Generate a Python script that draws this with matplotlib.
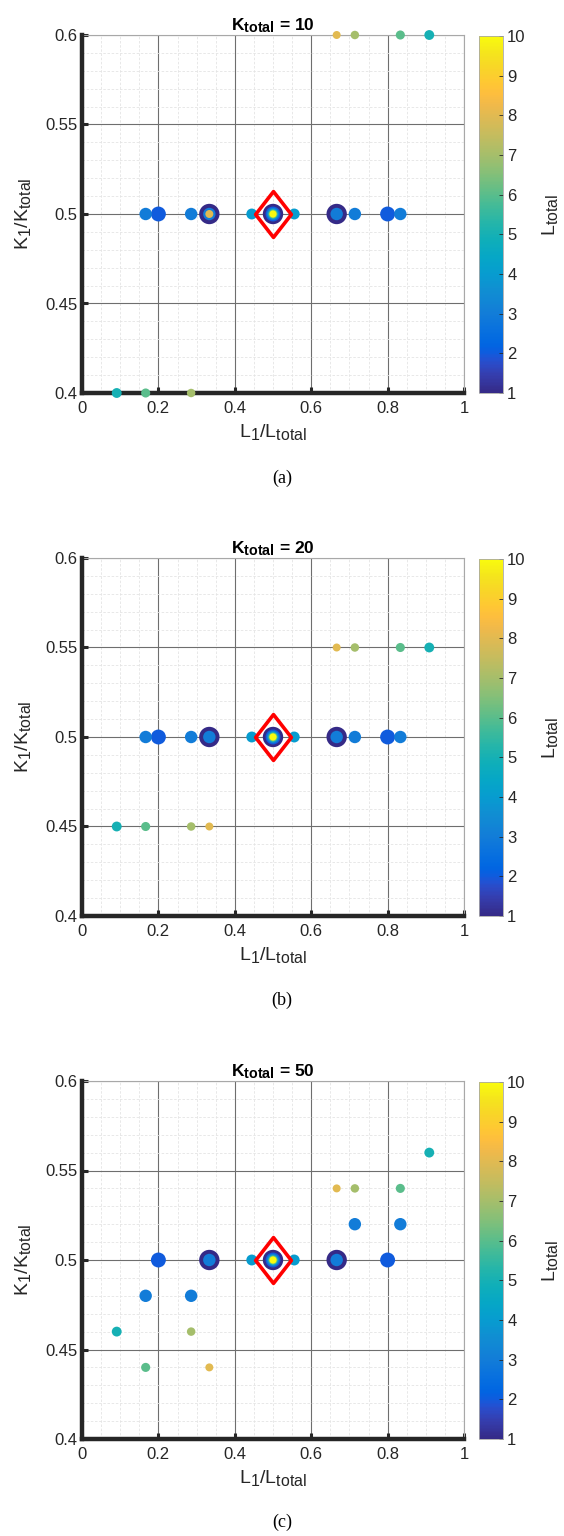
import numpy as np
import matplotlib
matplotlib.use('Agg')
import matplotlib.pyplot as plt
from matplotlib.colors import LinearSegmentedColormap
from matplotlib.ticker import MultipleLocator, FuncFormatter
from matplotlib.path import Path

plt.rcParams['font.family'] = ['Liberation Sans', 'DejaVu Sans']
plt.rcParams['mathtext.fontset'] = 'custom'
plt.rcParams['mathtext.rm'] = 'Liberation Sans'
plt.rcParams['mathtext.it'] = 'Liberation Sans'
plt.rcParams['mathtext.bf'] = 'Liberation Sans:bold'
try:
    # MATLAB subscripts are bigger than mathtext's default ones
    import matplotlib._mathtext as _mt
    _mt.SHRINK_FACTOR = 0.82
except Exception:
    pass

# data: (L1/Ltotal, K1/Ktotal, Ltotal)
K_totals = [10, 20, 50]
captions = ['(a)', '(b)', '(c)']

x_a = [1/6, 1/5, 2/7, 1/3, 1/3, 1/3, 4/9, 1/2, 1/2, 1/2, 1/2, 1/2, 1/2, 5/9,
       2/3, 2/3, 5/7, 4/5, 5/6, 1/11, 1/6, 2/7, 2/3, 5/7, 5/6, 10/11]
y_a = [0.5] * 19 + [0.4] * 3 + [0.6] * 4
L_a = [3, 2, 3, 1, 3, 8, 4, 1, 2, 3, 4, 6, 10, 4,
       1, 3, 3, 2, 3, 5, 6, 7, 8, 7, 6, 5]

x_b = [1/6, 1/5, 2/7, 1/3, 1/3, 4/9, 1/2, 1/2, 1/2, 1/2, 1/2, 1/2, 5/9,
       2/3, 2/3, 5/7, 4/5, 5/6, 1/11, 1/6, 2/7, 1/3, 2/3, 5/7, 5/6, 10/11]
y_b = [0.5] * 18 + [0.45] * 4 + [0.55] * 4
L_b = [3, 2, 3, 1, 3, 4, 1, 2, 3, 4, 6, 10, 4,
       1, 3, 3, 2, 3, 5, 6, 7, 8, 8, 7, 6, 5]

x_c = [1/11, 1/6, 1/6, 1/5, 2/7, 2/7, 1/3, 1/3, 1/3, 4/9, 1/2, 1/2, 1/2, 1/2, 1/2, 1/2,
       5/9, 2/3, 2/3, 2/3, 5/7, 5/7, 4/5, 5/6, 5/6, 10/11]
y_c = [0.46, 0.44, 0.48, 0.5, 0.48, 0.46, 0.44, 0.5, 0.5, 0.5, 0.5, 0.5, 0.5, 0.5, 0.5, 0.5,
       0.5, 0.5, 0.5, 0.54, 0.54, 0.52, 0.5, 0.52, 0.54, 0.56]
L_c = [5, 6, 3, 2, 3, 7, 8, 1, 3, 4, 1, 2, 3, 4, 6, 10,
       4, 1, 3, 8, 7, 3, 2, 3, 6, 5]

panels = [(x_a, y_a, L_a), (x_b, y_b, L_b), (x_c, y_c, L_c)]
best = (0.5, 0.5)

# approximate MATLAB parula (index out of 63, rgb)
parula_pts = [(0, (0.2081, 0.1663, 0.5292)), (3, (0.2081, 0.2386, 0.6771)),
              (5, (0.1707, 0.2919, 0.7792)), (6, (0.1253, 0.3242, 0.8303)),
              (7, (0.0591, 0.3598, 0.8683)), (8, (0.0117, 0.3875, 0.8820)),
              (9, (0.0060, 0.4086, 0.8828)), (11, (0.0329, 0.4430, 0.8720)),
              (14, (0.0723, 0.4887, 0.8467)), (18, (0.0641, 0.5570, 0.8240)),
              (21, (0.0265, 0.6137, 0.8135)), (24, (0.0228, 0.6535, 0.7768)),
              (27, (0.0590, 0.6838, 0.7254)), (30, (0.1453, 0.7098, 0.6646)),
              (33, (0.2586, 0.7317, 0.5954)), (36, (0.3953, 0.7459, 0.5244)),
              (39, (0.5300, 0.7491, 0.4661)), (42, (0.6473, 0.7456, 0.4188)),
              (45, (0.7525, 0.7384, 0.3768)), (48, (0.8507, 0.7299, 0.3360)),
              (51, (0.9450, 0.7261, 0.2886)), (53, (0.9938, 0.7455, 0.2403)),
              (55, (0.9955, 0.7861, 0.1967)), (58, (0.9697, 0.8481, 0.1475)),
              (60, (0.9589, 0.8949, 0.1132)), (63, (0.9763, 0.9831, 0.0538))]
parula = LinearSegmentedColormap.from_list('parula', [(p / 63, c) for p, c in parula_pts])

diamond = Path([(0, 1), (0.78, 0), (0, -1), (-0.78, 0), (0, 1)],
               [Path.MOVETO, Path.LINETO, Path.LINETO, Path.LINETO, Path.CLOSEPOLY])

fmt = FuncFormatter(lambda v, p: '%g' % round(v, 3))

fig = plt.figure(figsize=(5.64, 15.36), dpi=100)
tops = [35, 558, 1081]
cap_y = [478, 1000, 1522]
H = 1536.0
W = 564.0
dark = '#262626'

for i, (xs, ys, Ls) in enumerate(panels):
    bottom = 1 - (tops[i] + 358) / H
    ax = fig.add_axes([82 / W, bottom, 382 / W, 358 / H])
    cax = fig.add_axes([479 / W, bottom, 24 / W, 357 / H])

    order = np.argsort(Ls, kind='stable')
    xs = np.array(xs)[order]
    ys = np.array(ys)[order]
    Ls = np.array(Ls, dtype=float)[order]
    sizes = 215 * Ls ** -0.9
    sc = ax.scatter(xs, ys, s=sizes, c=Ls, cmap=parula, vmin=1, vmax=10,
                    edgecolors='none', zorder=4, clip_on=False)
    ax.plot([best[0]], [best[1]], marker=diamond, markersize=33, mfc='none',
            mec='#ff0000', mew=2.6, zorder=5, clip_on=False)

    ax.set_xlim(0, 1)
    ax.set_ylim(0.4, 0.6)
    ax.xaxis.set_major_locator(MultipleLocator(0.2))
    ax.xaxis.set_minor_locator(MultipleLocator(0.05))
    ax.yaxis.set_major_locator(MultipleLocator(0.05))
    ax.yaxis.set_minor_locator(MultipleLocator(0.01))
    ax.xaxis.set_major_formatter(fmt)
    ax.yaxis.set_major_formatter(fmt)
    ax.grid(which='major', color='#6e6e6e', lw=0.8, zorder=0)
    ax.grid(which='minor', color='#e4e4e4', lw=0.6, ls=(0, (3, 2)), zorder=0)
    ax.set_axisbelow(True)
    ax.tick_params(which='major', direction='in', length=4, width=2.2, color=dark,
                   labelsize=12, labelcolor=dark)
    ax.tick_params(axis='x', pad=6)
    ax.tick_params(axis='y', pad=3)
    ax.tick_params(which='minor', length=0)
    for side in ['left', 'bottom']:
        ax.spines[side].set_linewidth(3.2)
        ax.spines[side].set_color(dark)
        ax.spines[side].set_zorder(3)
    for side in ['top', 'right']:
        ax.spines[side].set_linewidth(0.8)
        ax.spines[side].set_color('#a8a8a8')

    ax.set_title(r'K$_{\bf total}$ = %d' % K_totals[i], fontsize=12.5, fontweight='bold', pad=3)
    ax.set_xlabel(r'L$_1$/L$_{\rm total}$', fontsize=14, color=dark, labelpad=4)
    ax.set_ylabel(r'K$_1$/K$_{\rm total}$', fontsize=14, color=dark, labelpad=9)

    cb = fig.colorbar(sc, cax=cax, ticks=range(1, 11))
    cb.outline.set_edgecolor('#a8a8a8')
    cb.outline.set_linewidth(0.6)
    cax.tick_params(direction='in', length=3, width=0.6, color=dark, labelsize=12,
                    labelcolor=dark, pad=3)
    cb.set_label(r'L$_{\rm total}$', fontsize=14, color=dark, labelpad=10)

    fig.text(0.5, 1 - cap_y[i] / H, captions[i], ha='center', va='center',
             fontsize=13, family='Liberation Serif')

fig.savefig('out.png', dpi=100)
